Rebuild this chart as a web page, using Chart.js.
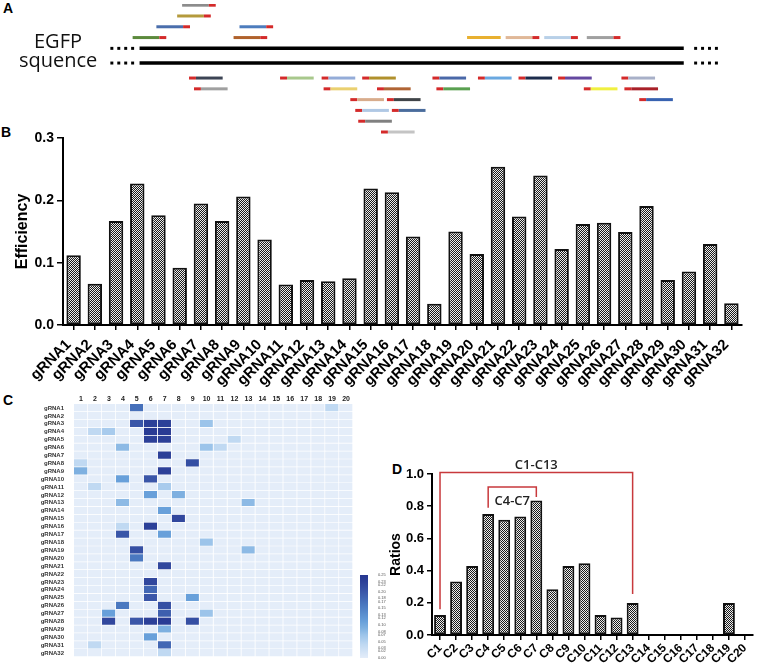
<!DOCTYPE html>
<html>
<head>
<meta charset="utf-8">
<script src="https://cdn.jsdelivr.net/npm/chart.js@4.4.1/dist/chart.umd.min.js"></script>
<style>
  body { margin: 0; background: #fff; width: 759px; height: 668px; position: relative; overflow: hidden; font-family: 'Liberation Sans', Arial, sans-serif; }
  .box { position: absolute; }
  .tag { position: absolute; font-weight: bold; font-size: 14px; line-height: 14px; color: #000; }
</style>
</head>
<body>
<div class="tag" style="left:3px;top:1px">A</div>
<div class="tag" style="left:1px;top:125px">B</div>
<div class="tag" style="left:3px;top:393px">C</div>
<div class="tag" style="left:392px;top:462px">D</div>

<div class="box" style="left:0;top:0;width:759px;height:140px"><canvas id="chartA"></canvas></div>
<div class="box" style="left:0;top:125px;width:759px;height:270px"><canvas id="chartB"></canvas></div>
<div class="box" style="left:0;top:390px;width:390px;height:278px"><canvas id="chartC"></canvas></div>
<div class="box" style="left:355px;top:568px;width:40px;height:100px"><canvas id="chartBar"></canvas></div>
<div class="box" style="left:388px;top:440px;width:371px;height:228px"><canvas id="chartD"></canvas></div>

<script>
// ---- panel A: guides along the EGFP sequence ----
const seqLength = 550;
const strandLevels = [0, -1.36];
const dotPositions = [-28, -21, -14, -7, 562, 569, 576, 583];

// guides on the upper strand (PAM on the right)
const aboveStart = [43, 38, 17, 101, -7, 95, 331, 370, 409, 452];
const aboveLane = [4, 3, 2, 2, 1, 1, 1, 1, 1, 1];
const abovePam = [1, 1, 1, 1, 1, 1, 0, 1, 1, 1];
const aboveColor = ['#8c8c8c', '#b49a3c', '#4a6eac', '#4d7cbd', '#5c8a3c', '#b0622c', '#e8b030', '#e0b898', '#b8d0e8', '#a0a0a0'];

// guides on the lower strand (PAM on the left)
const belowStart = [50, 142, 184, 225, 296, 342, 383, 423, 487, 55, 186, 240, 300, 449, 490, 213, 250, 505, 218, 255, 221, 244];
const belowLane = [1, 1, 1, 1, 1, 1, 1, 1, 1, 2, 2, 2, 2, 2, 2, 3, 3, 3, 4, 4, 5, 6];
const belowColor = ['#3c4454', '#a8c88c', '#94acd8', '#b0902c', '#4a68a8', '#6aa8e0', '#1c2c4c', '#6448a0', '#a8b0c8',
  '#a0a0a0', '#ead070', '#b06434', '#5aa050', '#f0f040', '#a82028',
  '#d8ac8c', '#404448', '#3862b0', '#b0c8e4', '#4a6c9c', '#808080', '#c4c4c4'];

// ---- panel B ----
const gRNAs = ['gRNA1', 'gRNA2', 'gRNA3', 'gRNA4', 'gRNA5', 'gRNA6', 'gRNA7', 'gRNA8', 'gRNA9', 'gRNA10',
  'gRNA11', 'gRNA12', 'gRNA13', 'gRNA14', 'gRNA15', 'gRNA16', 'gRNA17', 'gRNA18', 'gRNA19', 'gRNA20',
  'gRNA21', 'gRNA22', 'gRNA23', 'gRNA24', 'gRNA25', 'gRNA26', 'gRNA27', 'gRNA28', 'gRNA29', 'gRNA30',
  'gRNA31', 'gRNA32'];
const efficiency = [0.112, 0.066, 0.167, 0.227, 0.176, 0.092, 0.195, 0.167, 0.206, 0.137,
  0.065, 0.072, 0.070, 0.075, 0.219, 0.213, 0.142, 0.034, 0.150, 0.114,
  0.254, 0.174, 0.240, 0.122, 0.162, 0.164, 0.149, 0.191, 0.072, 0.086,
  0.130, 0.035];
const effTicks = [0, 0.1, 0.2, 0.3];

// ---- panel C: heat map (non-zero cells only) ----
const positions = ['1', '2', '3', '4', '5', '6', '7', '8', '9', '10', '11', '12', '13', '14', '15', '16', '17', '18', '19', '20'];
const hitRow = [1, 1, 3, 3, 3, 3, 4, 4, 4, 4, 5, 5, 5, 6, 6, 6, 7, 8, 8, 9, 9, 10, 10, 11, 11, 12, 12, 13, 13, 14,
  15, 16, 16, 17, 17, 18, 19, 19, 20, 21, 23, 24, 25, 25, 26, 26, 27, 27, 27, 28, 28, 28, 28, 28, 29, 30, 31, 31, 32];
const hitCol = [5, 19, 5, 6, 7, 10, 2, 3, 6, 7, 6, 7, 12, 4, 10, 11, 7, 1, 9, 1, 7, 4, 6, 2, 7, 6, 8, 4, 13, 7,
  8, 4, 6, 4, 7, 10, 5, 13, 5, 7, 6, 6, 6, 9, 4, 7, 3, 7, 10, 3, 5, 6, 7, 9, 7, 6, 2, 7, 7];
const hitVal = [0.17, 0.04, 0.20, 0.23, 0.23, 0.07, 0.04, 0.06, 0.24, 0.24, 0.23, 0.23, 0.04, 0.08, 0.07, 0.04, 0.23, 0.04, 0.21, 0.09,
  0.23, 0.11, 0.20, 0.04, 0.06, 0.11, 0.09, 0.08, 0.08, 0.11, 0.22, 0.04, 0.23, 0.20, 0.11, 0.07, 0.21, 0.08, 0.16, 0.22,
  0.22, 0.18, 0.20, 0.11, 0.16, 0.21, 0.11, 0.19, 0.07, 0.22, 0.20, 0.23, 0.24, 0.21, 0.09, 0.11, 0.04, 0.18, 0.04];
const scaleTicks = [0.25, 0.23, 0.22, 0.20, 0.18, 0.17, 0.15, 0.13, 0.12, 0.10, 0.08, 0.07, 0.05, 0.03, 0.02, 0.00];

// ---- panel D ----
const cycles = ['C1', 'C2', 'C3', 'C4', 'C5', 'C6', 'C7', 'C8', 'C9', 'C10',
  'C11', 'C12', 'C13', 'C14', 'C15', 'C16', 'C17', 'C18', 'C19', 'C20'];
const ratios = [0.124, 0.332, 0.429, 0.751, 0.716, 0.736, 0.836, 0.284, 0.429, 0.446,
  0.124, 0.108, 0.199, 0, 0, 0, 0, 0, 0.199, 0];
const ratioTicks = [0, 0.2, 0.4, 0.6, 0.8, 1.0];
const bracketName = ['C1-C13', 'C4-C7'];
const bracketFrom = ['C1', 'C4'];
const bracketTo = ['C13', 'C7'];
const bracketTop = [1.01, 0.92];
const bracketLeftEnd = [0.16, 0.79];
const bracketRightEnd = [0.255, 0.857];

Chart.defaults.font.family = "'Liberation Sans', Arial, sans-serif";
Chart.defaults.color = '#000';
Chart.defaults.animation = false;
Chart.defaults.maintainAspectRatio = false;
Chart.defaults.plugins.legend.display = false;
Chart.defaults.plugins.tooltip.enabled = false;

const PAM = '#d42a2a';
const BODY = 27, PAMLEN = 7;

function checker(canvasId) {
    const c = document.createElement('canvas');
    c.width = 2; c.height = 2;
    const g = c.getContext('2d');
    g.fillStyle = '#ececec'; g.fillRect(0, 0, 2, 2);
    g.fillStyle = '#1a1a1a'; g.fillRect(0, 0, 1, 1); g.fillRect(1, 1, 1, 1);
    return document.getElementById(canvasId).getContext('2d').createPattern(c, 'repeat');
}

const heatStops = [[0, [228, 237, 249]], [0.04, [192, 217, 242]], [0.07, [156, 196, 234]], [0.09, [126, 176, 224]],
  [0.11, [104, 160, 218]], [0.16, [74, 120, 192]], [0.20, [58, 86, 168]], [0.23, [44, 64, 152]], [0.25, [38, 54, 144]]];

function heatColor(v) {
    for (let i = 1; i < heatStops.length; i++) {
        const [v1, c1] = heatStops[i];
        const [v0, c0] = heatStops[i - 1];
        if (v <= v1) {
            const t = (v - v0) / (v1 - v0);
            const c = c0.map((a, k) => Math.round(a + (c1[k] - a) * t));
            return `rgb(${c[0]},${c[1]},${c[2]})`;
        }
    }
    const c = heatStops[heatStops.length - 1][1];
    return `rgb(${c[0]},${c[1]},${c[2]})`;
}

// ---------- A ----------
function guideSet(start, y, color, upper, hasPam) {
    const cut = upper ? start + BODY : start + PAMLEN;
    const pamSeg = upper ? 1 : 0;
    return {
        data: [{ x: start, y: y }, { x: cut, y: y }, { x: start + BODY + PAMLEN, y: y }],
        borderColor: color,
        borderWidth: 3,
        borderCapStyle: 'butt',
        showLine: true,
        pointRadius: 0,
        segment: { borderColor: ctx => (hasPam && ctx.p0DataIndex === pamSeg) ? PAM : undefined }
    };
}

const setsA = [];
strandLevels.forEach(lv => {
    setsA.push({ data: [{ x: 0, y: lv }, { x: seqLength, y: lv }], borderColor: '#000', borderWidth: 3.5, showLine: true, pointRadius: 0, borderCapStyle: 'butt' });
    setsA.push({ data: dotPositions.map(p => ({ x: p, y: lv })), pointStyle: 'rect', pointRadius: 2.1, backgroundColor: '#000', borderWidth: 0, showLine: false });
});
aboveStart.forEach((s, i) => setsA.push(guideSet(s, aboveLane[i], aboveColor[i], true, abovePam[i])));
belowStart.forEach((s, i) => setsA.push(guideSet(s, -(belowLane[i] + 1.75), belowColor[i], false, 1)));

const egfpText = {
    id: 'egfpText',
    afterDraw(chart) {
        const ctx = chart.ctx;
        ctx.save();
        ctx.font = "20px 'Open Sans'";
        ctx.fillStyle = '#111';
        ctx.textBaseline = 'alphabetic';
        ctx.fillText('EGFP', 34, 48);
        ctx.fillText('squence', 19, 67);
        ctx.restore();
    }
};

new Chart(document.getElementById('chartA'), {
    type: 'scatter',
    data: { datasets: setsA },
    options: {
        events: [],
        layout: { padding: 0 },
        scales: {
            x: { type: 'linear', min: -137, max: 622, display: false },
            y: { type: 'linear', min: -8.12, max: 4.11, display: false }
        }
    },
    plugins: [egfpText]
});

// ---------- B ----------
new Chart(document.getElementById('chartB'), {
    type: 'bar',
    data: {
        labels: gRNAs,
        datasets: [{
            data: efficiency,
            backgroundColor: checker('chartB'),
            borderColor: '#111',
            borderWidth: 2,
            borderSkipped: false,
            barPercentage: 0.68,
            categoryPercentage: 1
        }]
    },
    options: {
        events: [],
        layout: { padding: { top: 13, right: 17, left: 0, bottom: 0 } },
        scales: {
            x: {
                grid: { display: true, drawOnChartArea: false, offset: false, tickLength: 5, color: '#000', lineWidth: 1.5 },
                border: { color: '#000', width: 2 },
                ticks: { minRotation: 45, maxRotation: 45, autoSkip: false, font: { size: 15, weight: 'bold' }, color: '#000', padding: 6, labelOffset: -5 },
                afterFit: s => { s.height = 70; }
            },
            y: {
                min: 0, max: 0.3,
                afterBuildTicks: s => { s.ticks = effTicks.map(v => ({ value: v })); },
                ticks: { callback: v => v.toFixed(1), font: { size: 14, weight: 'bold' }, color: '#000', padding: 3 },
                grid: { display: true, drawOnChartArea: false, tickLength: 6, color: '#000', lineWidth: 1.5 },
                border: { color: '#000', width: 2 },
                title: { display: true, text: 'Efficiency', font: { size: 16, weight: 'bold' }, color: '#000', padding: { top: 13, bottom: 0 } },
                afterFit: s => { s.width = 63; }
            }
        }
    }
});

// ---------- C ----------
const heatMatrix = gRNAs.map(() => positions.map(() => 0));
hitRow.forEach((r, i) => { heatMatrix[r - 1][hitCol[i] - 1] = hitVal[i]; });

const heatSets = positions.map((p, j) => ({
    data: gRNAs.map(() => [j, j + 1]),
    backgroundColor: heatMatrix.map(row => heatColor(row[j])),
    borderColor: 'rgba(255,255,255,0.65)',
    borderWidth: { top: 0, left: 0, right: 1, bottom: 1 },
    borderSkipped: false,
    barPercentage: 1,
    categoryPercentage: 1,
    grouped: false
}));

new Chart(document.getElementById('chartC'), {
    type: 'bar',
    data: { labels: gRNAs, datasets: heatSets },
    options: {
        events: [],
        indexAxis: 'y',
        layout: { padding: { top: 0, right: 37, bottom: 11, left: 0 } },
        scales: {
            y: {
                grid: { display: false }, border: { display: false },
                ticks: { autoSkip: false, font: { size: 6, weight: 'bold' }, color: '#333', padding: 2 },
                afterFit: s => { s.width = 74; }
            },
            x: {
                type: 'linear', position: 'top', min: 0, max: 20,
                grid: { display: false, drawTicks: false }, border: { display: false },
                afterBuildTicks: s => { s.ticks = positions.map((p, i) => ({ value: i + 0.5 })); },
                ticks: { callback: (v, i) => positions[i], autoSkip: false, maxRotation: 0, minRotation: 0, font: { size: 7, weight: 'bold' }, color: '#222', padding: 1 },
                afterFit: s => { s.height = 14; }
            }
        }
    }
});

new Chart(document.getElementById('chartBar'), {
    type: 'bar',
    data: {
        labels: [''],
        datasets: [{
            data: [[0, 0.25]],
            backgroundColor: ctx => {
                const a = ctx.chart.chartArea;
                if (!a) return '#ccc';
                const g = ctx.chart.ctx.createLinearGradient(0, a.bottom, 0, a.top);
                heatStops.forEach(s => g.addColorStop(s[0] / 0.25, `rgb(${s[1].join(',')})`));
                return g;
            },
            barPercentage: 1, categoryPercentage: 1
        }]
    },
    options: {
        events: [],
        layout: { padding: { top: 7, right: 0, bottom: 10, left: 5 } },
        scales: {
            x: { display: false },
            y: {
                position: 'right', min: 0, max: 0.25,
                grid: { display: false }, border: { display: false },
                afterBuildTicks: s => { s.ticks = scaleTicks.map(v => ({ value: v })); },
                ticks: { callback: v => v.toFixed(2), font: { size: 4 }, color: '#555', padding: 2, autoSkip: false },
                afterFit: s => { s.width = 27; }
            }
        }
    }
});

// ---------- D ----------
const bracketSets = bracketName.map((n, i) => ({
    type: 'line',
    data: [
        { x: bracketFrom[i], y: bracketLeftEnd[i] },
        { x: bracketFrom[i], y: bracketTop[i] },
        { x: bracketTo[i], y: bracketTop[i] },
        { x: bracketTo[i], y: bracketRightEnd[i] }
    ],
    borderColor: '#c8393c',
    borderWidth: 1.5,
    pointRadius: 0,
    clip: false,
    tension: 0
}));

const bracketText = {
    id: 'bracketText',
    afterDatasetsDraw(chart) {
        const { ctx, scales: { x, y } } = chart;
        ctx.save();
        ctx.font = "600 13px 'Open Sans'";
        ctx.fillStyle = '#222';
        ctx.textAlign = 'center';
        ctx.textBaseline = 'alphabetic';
        bracketName.forEach((n, i) => {
            const xa = x.getPixelForValue(cycles.indexOf(bracketFrom[i]));
            const xb = x.getPixelForValue(cycles.indexOf(bracketTo[i]));
            const yy = y.getPixelForValue(bracketTop[i]);
            ctx.fillText(n, (xa + xb) / 2, i === 0 ? yy - 3 : yy + 18);
        });
        ctx.restore();
    }
};

new Chart(document.getElementById('chartD'), {
    type: 'bar',
    data: {
        labels: cycles,
        datasets: [{
            data: ratios,
            backgroundColor: checker('chartD'),
            borderColor: '#111',
            borderWidth: 2,
            borderSkipped: false,
            barPercentage: 0.74,
            categoryPercentage: 1
        }, ...bracketSets]
    },
    options: {
        events: [],
        layout: { padding: { top: 34, right: 6, left: 0, bottom: 0 } },
        scales: {
            x: {
                grid: { display: true, drawOnChartArea: false, offset: false, tickLength: 5, color: '#000', lineWidth: 1.5 },
                border: { color: '#000', width: 2 },
                ticks: { minRotation: 45, maxRotation: 45, autoSkip: false, font: { size: 12, weight: 'bold' }, color: '#000', padding: 1 },
                afterFit: s => { s.height = 33; }
            },
            y: {
                min: 0, max: 1,
                afterBuildTicks: s => { s.ticks = ratioTicks.map(v => ({ value: v })); },
                ticks: { callback: v => v.toFixed(1), font: { size: 13, weight: 'bold' }, color: '#000', padding: 3 },
                grid: { display: true, drawOnChartArea: false, tickLength: 5, color: '#000', lineWidth: 1.5 },
                border: { color: '#000', width: 2 },
                title: { display: true, text: 'Ratios', font: { size: 14, weight: 'bold' }, color: '#000', padding: { top: 0, bottom: 2 } },
                afterFit: s => { s.width = 44; }
            }
        }
    },
    plugins: [bracketText]
});
</script>
</body>
</html>
